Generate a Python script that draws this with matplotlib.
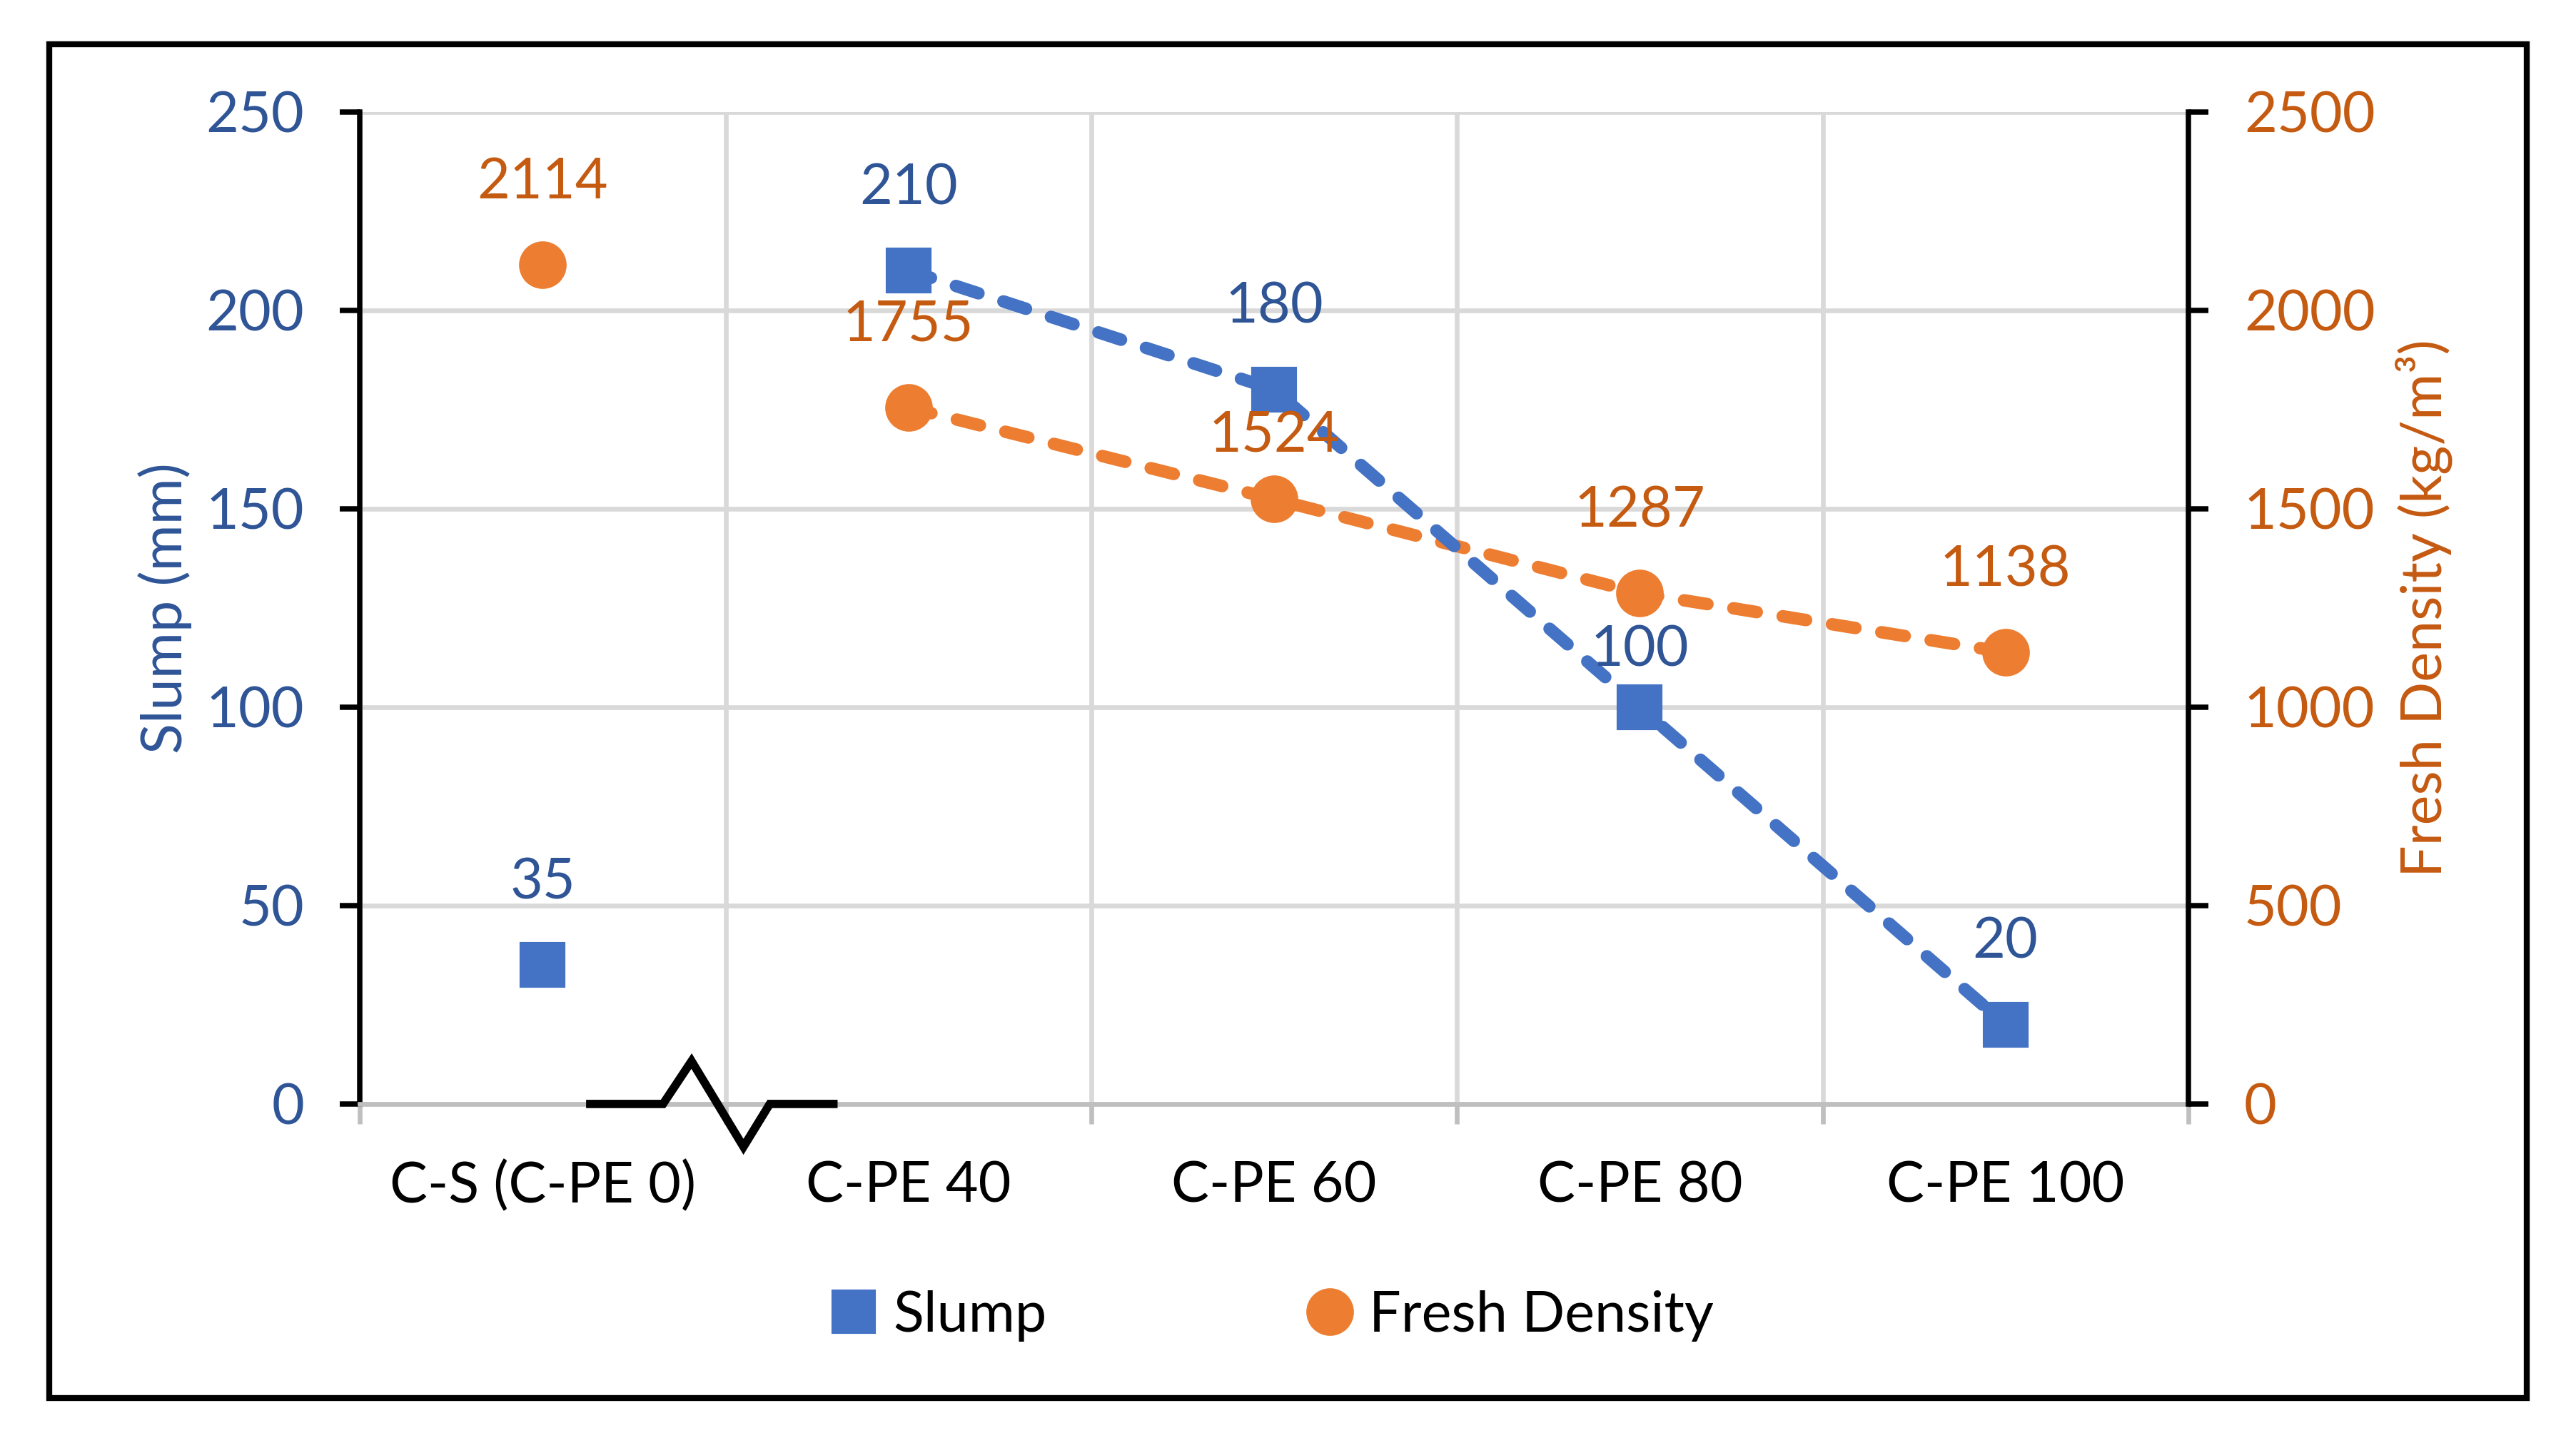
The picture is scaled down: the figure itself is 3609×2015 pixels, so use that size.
import matplotlib
matplotlib.use("Agg")
import matplotlib.pyplot as plt
from matplotlib.lines import Line2D
from matplotlib.patches import Rectangle

# ---- data ----
categories = ["C-S (C-PE 0)", "C-PE 40", "C-PE 60", "C-PE 80", "C-PE 100"]
slump = [35, 210, 180, 100, 20]
density = [2114, 1755, 1524, 1287, 1138]
slump_ticks = [0, 50, 100, 150, 200, 250]
density_ticks = [0, 500, 1000, 1500, 2000, 2500]

# ---- style ----
BLUE = "#4472C4"
BLUE_TXT = "#2F5597"
ORANGE = "#ED7D31"
ORANGE_TXT = "#C55A11"
GRID = "#D9D9D9"
AXIS_GRAY = "#BFBFBF"
FS = 19
plt.rcParams['font.family'] = ['Lato', 'DejaVu Sans']

slump_label_off = [27.6, 27.6, 27.6, 19, 27.6]
dens_label_off = [27.6, 27.6, 21, 27.6, 27.6]

fig = plt.figure(figsize=(3609 / 300, 2015 / 300), dpi=300)
ax = fig.add_axes([0.1397, 0.2323, 0.8495 - 0.1397, 0.9223 - 0.2323])
ax2 = ax.twinx()

x = list(range(len(categories)))

# outer frame
fig.patches.append(Rectangle((0.0191, 0.0279), 0.9809 - 0.0191, 0.9692 - 0.0279,
                             transform=fig.transFigure, fill=False,
                             edgecolor="black", linewidth=2.0, zorder=0))

# axes limits
ax.set_xlim(-0.5, len(categories) - 0.5)
ax.set_ylim(slump_ticks[0], slump_ticks[-1])
ax2.set_ylim(density_ticks[0], density_ticks[-1])

# grid
ax.set_yticks(slump_ticks)
ax2.set_yticks(density_ticks)
ax.set_xticks(x)
ax.set_xticks([i - 0.5 for i in range(len(categories) + 1)], minor=True)
ax.grid(True, axis='y', color=GRID, linewidth=1.6, zorder=0)
ax.grid(True, axis='x', which='minor', color=GRID, linewidth=1.6, zorder=0)
ax.set_axisbelow(True)

# spines
for a in (ax, ax2):
    a.spines['top'].set_visible(False)
ax.spines['left'].set_linewidth(1.8)
ax.spines['left'].set_color('black')
ax.spines['right'].set_visible(False)
ax2.spines['left'].set_visible(False)
ax2.spines['right'].set_linewidth(1.8)
ax2.spines['right'].set_color('black')
ax.spines['bottom'].set_color(AXIS_GRAY)
ax.spines['bottom'].set_linewidth(1.6)
ax2.spines['bottom'].set_visible(False)

# ticks
ax.tick_params(axis='y', direction='out', length=6.7, width=1.8, color='black',
               labelsize=FS, labelcolor=BLUE_TXT, pad=12)
ax2.tick_params(axis='y', direction='out', length=6.7, width=1.8, color='black',
                labelsize=FS, labelcolor=ORANGE_TXT, pad=12)
ax.tick_params(axis='x', which='major', length=0, labelsize=FS, labelcolor='black', pad=19)
ax.tick_params(axis='x', which='minor', direction='out', length=6.7, width=1.6, color=AXIS_GRAY)
ax.set_xticklabels(categories)

# axis labels
ax.set_ylabel("Slump (mm)", fontsize=FS, color=BLUE_TXT)
ax.yaxis.set_label_coords(-0.092, 0.5)
ax2.set_ylabel("Fresh Density (kg/m³)", fontsize=FS, color=ORANGE_TXT, rotation=90)
ax2.yaxis.set_label_coords(1.113, 0.5)

# lines (series C-PE 40..100 connected), markers all
ax2.plot(x[1:], density[1:], color=ORANGE, linewidth=4.2, dashes=(1.9, 2.1),
         dash_capstyle='round', zorder=3)
ax2.plot(x, density, linestyle='none', marker='o', markersize=15,
         color=ORANGE, zorder=4)
ax2.plot(x[1:], slump[1:], transform=ax.transData, color=BLUE, linewidth=4.2,
         dashes=(1.9, 2.1), dash_capstyle='round', zorder=5)
ax2.plot(x, slump, transform=ax.transData, linestyle='none', marker='s',
         markersize=14.5, color=BLUE, zorder=6)

# data labels
for xi, v, off in zip(x, slump, slump_label_off):
    ax2.annotate(f"{v}", xy=(xi, v), xycoords=ax.transData, xytext=(0, off),
                 textcoords='offset points', ha='center', va='center',
                 fontsize=FS, color=BLUE_TXT, zorder=7)
for xi, v, off in zip(x, density, dens_label_off):
    ax2.annotate(f"{v}", xy=(xi, v), xytext=(0, off),
                 textcoords='offset points', ha='center', va='center',
                 fontsize=FS, color=ORANGE_TXT, zorder=7)

# axis break symbol
bx = [0.13, 0.329, 0.407, 0.549, 0.621, 0.795]
by = [0, 0, 10.8, -10.8, 0, 0]
ax2.plot(bx, by, transform=ax.transData, color='black', linewidth=2.8,
         solid_joinstyle='miter', clip_on=False, zorder=8)

# legend
handles = [Line2D([], [], linestyle='none', marker='s', markersize=14, color=BLUE),
           Line2D([], [], linestyle='none', marker='o', markersize=15, color=ORANGE)]
fig.legend(handles, ["Slump", "Fresh Density"], loc='center',
           bbox_to_anchor=(0.494, 0.085), ncol=2, frameon=False, fontsize=FS,
           handlelength=0.8, handletextpad=0.3, columnspacing=4.6)

fig.savefig("out.png", dpi=300)
